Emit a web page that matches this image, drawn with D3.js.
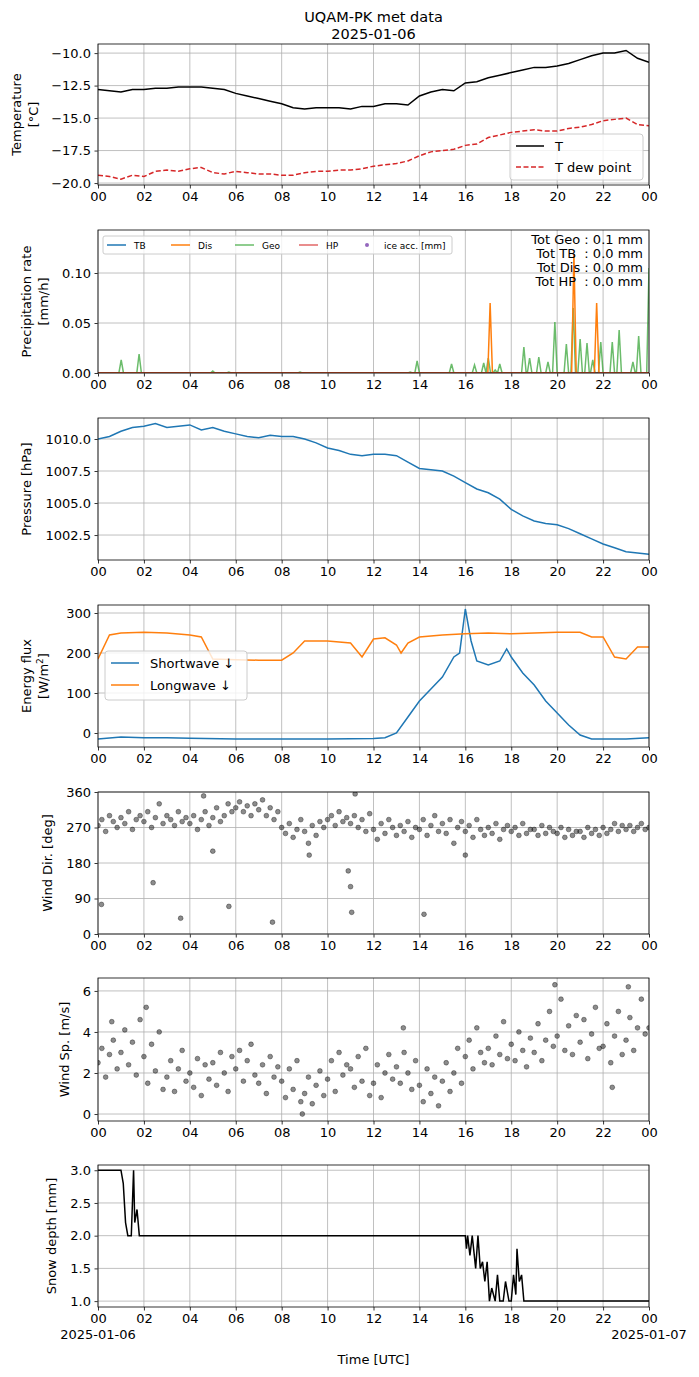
<!DOCTYPE html>
<html><head><meta charset="utf-8">
<script src="https://cdn.jsdelivr.net/npm/d3@7"></script>
<style>body{margin:0;background:#fff}text{font-family:"DejaVu Sans",sans-serif}</style>
</head><body><div id="chart"></div>
<script>
// half-hourly times 0..24
const halfHours = d3.range(0, 24.01, 0.5);
const tempT = [-12.8,-12.9,-13.0,-12.8,-12.8,-12.7,-12.7,-12.6,-12.6,-12.6,-12.7,-12.8,-13.1,-13.3,-13.5,-13.7,-13.9,-14.2,-14.3,-14.2,-14.2,-14.2,-14.3,-14.1,-14.1,-13.9,-13.9,-14.0,-13.3,-13.0,-12.8,-12.9,-12.3,-12.2,-11.9,-11.7,-11.5,-11.3,-11.1,-11.1,-11.0,-10.8,-10.5,-10.2,-10.0,-10.0,-9.8,-10.4,-10.7];
const tempTd = [-19.4,-19.5,-19.7,-19.4,-19.5,-19.1,-19.0,-19.1,-18.9,-18.8,-19.2,-19.3,-19.1,-19.2,-19.3,-19.3,-19.4,-19.4,-19.2,-19.1,-19.1,-19.0,-19.0,-18.9,-18.7,-18.6,-18.5,-18.3,-17.9,-17.6,-17.5,-17.4,-17.1,-17.0,-16.5,-16.3,-16.1,-16.0,-15.9,-16.0,-16.0,-15.8,-15.7,-15.5,-15.2,-15.1,-15.0,-15.5,-15.6];
const pressure = [1010.0,1010.2,1010.6,1010.9,1011.0,1011.2,1010.9,1011.0,1011.1,1010.7,1010.9,1010.6,1010.4,1010.2,1010.1,1010.3,1010.2,1010.2,1010.0,1009.7,1009.3,1009.1,1008.8,1008.7,1008.8,1008.8,1008.7,1008.2,1007.7,1007.6,1007.5,1007.1,1006.6,1006.1,1005.8,1005.3,1004.5,1004.0,1003.6,1003.4,1003.3,1003.0,1002.6,1002.2,1001.8,1001.5,1001.2,1001.1,1001.0];

const geoTimes = [1.01,1.79,5.0,5.7,8.8,13.6,13.9,15.4,16.4,16.8,17.0,17.3,17.5,18.55,18.8,19.2,19.6,19.9,20.4,20.7,21.0,21.3,21.55,21.9,22.4,22.7,23.3,23.55,24.0];
const geoVals  = [0.013,0.019,0.002,0.001,0.001,0.001,0.012,0.009,0.008,0.010,0.015,0.003,0.009,0.026,0.015,0.016,0.011,0.051,0.029,0.065,0.034,0.030,0.013,0.031,0.031,0.043,0.011,0.037,0.105];
const disTimes = [17.08,20.73,21.72];
const disVals  = [0.070,0.119,0.070];

const swTimes = [0,1,2,3,4,6,8,10,12,12.5,13,13.5,14,14.5,15,15.5,15.75,16,16.25,16.5,17,17.5,17.8,18,18.5,19,19.5,20,20.5,21,21.5,22,23,24];
const swVals  = [-15,-10,-12,-12,-13,-15,-15,-15,-14,-12,0,40,80,110,140,190,200,310,230,180,170,180,210,190,150,120,80,50,20,-5,-15,-15,-15,-12];
const lwTimes = [0,0.5,1,2,3,4,4.5,5,6,7,8,8.5,9,10,11,11.5,12,12.5,13,13.2,13.5,14,15,16,17,18,19,20,21,21.5,22,22.5,23,23.5,24];
const lwVals  = [185,245,250,252,250,245,240,185,183,182,182,200,230,230,225,190,235,238,220,200,225,240,245,248,250,248,250,252,252,240,240,190,185,215,215];

// wind at 10 min steps
const windDir = [275,290,260,300,285,270, 295,280,310,265,290,300, 285,310,270,295,330,280, 300,290,275,310,285,295,
 280,300,265,290,310,275, 295,320,285,300,330,310, 320,335,310,325,300,330, 315,340,300,320,290,310,
 270,255,280,245,265,290, 260,230,275,250,285,270, 290,300,275,310,285,295, 280,300,270,290,260,305,
 265,240,280,255,290,270, 250,275,260,285,245,270, 265,290,250,275,300,260, 280,255,290,230,270,285,
 260,275,245,290,265,250, 270,255,280,240,265,275, 260,270,250,280,255,265, 265,250,275,255,270,260,
 255,270,245,265,250,260, 260,245,270,255,265,250, 270,255,265,280,260,275, 265,275,260,270,280,265,270];
const dirOutTimes = [0.15,2.4,3.6,5.7,7.6,11.0,11.05,14.2,9.2,10.9,16.0,5.0,4.6,11.2];
const dirOutVals  = [75,130,40,70,30,120,55,50,200,160,200,210,350,355];
const windSp = [2.5,3.2,1.8,2.9,3.6,2.2, 3.0,4.1,2.4,3.5,1.9,4.6, 2.8,1.5,3.4,2.1,4.0,1.2, 1.8,2.6,1.1,2.2,3.1,1.6,
 2.0,1.3,2.7,0.9,2.4,1.7, 2.5,1.4,3.0,2.0,1.1,2.8, 2.2,3.1,1.6,2.6,3.4,1.9, 1.5,2.4,1.0,2.8,1.8,2.3,
 1.6,0.8,2.2,1.2,2.6,0.6, 1.0,1.8,0.5,1.4,2.1,0.9, 1.7,2.6,1.1,3.0,1.9,2.4, 2.2,1.3,2.8,1.6,3.2,0.9,
 1.5,2.4,0.8,2.0,2.9,1.7, 2.3,1.5,3.0,2.0,1.2,2.6, 1.4,0.6,2.2,1.0,1.8,0.4, 1.6,2.5,1.1,2.0,3.2,1.5,
 2.8,3.6,2.2,4.2,3.0,2.5, 3.2,2.4,3.8,2.9,4.5,2.7, 3.4,2.6,4.0,3.1,2.3,3.7, 3.0,4.4,2.6,3.6,5.0,3.3,
 3.8,5.6,3.1,4.3,2.9,4.8, 3.5,4.6,2.7,3.9,5.2,3.2, 3.3,4.4,2.5,3.8,5.0,2.9, 3.6,4.7,3.1,4.2,5.6,3.9,4.2];
const spOutTimes = [19.9,23.1,2.1,22.4,13.3,8.9,0.6];
const spOutVals  = [6.3,6.2,5.2,1.3,4.2,0.0,4.5];

const snowTimes = [0,1.0,1.1,1.2,1.3,1.45,1.55,1.6,1.7,1.8,16.0,16.05,16.1,16.2,16.3,16.45,16.55,16.65,16.75,16.85,16.95,17.05,17.15,17.3,17.4,17.5,17.65,17.75,17.9,18.0,18.1,18.2,18.25,18.35,18.45,18.55,24];
const snowVals  = [3.0,3.0,2.8,2.2,2.0,2.0,3.0,2.2,2.4,2.0,2.0,1.8,2.0,1.7,2.0,1.5,2.0,1.5,1.6,1.3,1.6,1.0,1.2,1.0,1.4,1.0,1.0,1.3,1.0,1.0,1.4,1.1,1.8,1.3,1.4,1.0,1.0];

const hourTicks = d3.range(0, 25, 2);

const W = 699, H = 1377, L = 98, R = 649;
const svg = d3.select('#chart').append('svg').attr('width', W).attr('height', H);
const x = d3.scaleLinear().domain([0, 24]).range([L, R]);

svg.append('text').attr('x', (L + R) / 2).attr('y', 22).attr('text-anchor', 'middle').attr('font-size', 14.5).text('UQAM-PK met data');
svg.append('text').attr('x', (L + R) / 2).attr('y', 39).attr('text-anchor', 'middle').attr('font-size', 14.5).text('2025-01-06');

function panel(top, bottom, domain, ticks, fmt, labels, labX) {
  const y = d3.scaleLinear().domain(domain).range([bottom, top]);
  const g = svg.append('g');
  g.append('g').attr('transform', `translate(0,${bottom})`)
    .call(d3.axisBottom(x).tickValues(hourTicks).tickFormat(d => d3.format('02d')(d % 24)).tickSize(3.5).tickPadding(3.5))
    .call(a => a.select('.domain').remove());
  g.append('g').attr('transform', `translate(${L},0)`)
    .call(d3.axisLeft(y).tickValues(ticks).tickFormat(d => fmt(d).replace('-', '\u2212')).tickSize(3.5).tickPadding(3.5))
    .call(a => a.select('.domain').remove());
  g.selectAll('.tick text').attr('font-size', 13).attr('fill', '#000').attr('font-family', 'DejaVu Sans');
  g.selectAll('.tick line').attr('stroke', '#000').attr('stroke-width', 0.8);
  const grid = g.append('g').attr('stroke', '#b0b0b0').attr('stroke-width', 0.8);
  hourTicks.forEach(h => grid.append('line').attr('x1', x(h)).attr('x2', x(h)).attr('y1', top).attr('y2', bottom));
  ticks.forEach(t => grid.append('line').attr('x1', L).attr('x2', R).attr('y1', y(t)).attr('y2', y(t)));
  const cid = 'c' + top;
  svg.append('clipPath').attr('id', cid).append('rect').attr('x', L).attr('y', top).attr('width', R - L).attr('height', bottom - top);
  const plot = svg.append('g').attr('clip-path', `url(#${cid})`);
  const mid = (top + bottom) / 2;
  labels.forEach((t, i) => {
    const tx = svg.append('text').attr('transform', `translate(${labX[i]},${mid}) rotate(-90)`).attr('text-anchor', 'middle').attr('font-size', 13);
    if (typeof t === 'string') tx.text(t); else t(tx);
  });
  const frame = () => svg.append('rect').attr('x', L).attr('y', top).attr('width', R - L).attr('height', bottom - top).attr('fill', 'none').attr('stroke', '#000').attr('stroke-width', 0.8);
  return { y, plot, frame };
}

function line(p, xs, ys, color, opts = {}) {
  const gen = d3.line().x((d, i) => x(xs[i])).y(d => p.y(d));
  p.plot.append('path').datum(ys).attr('d', gen).attr('fill', 'none').attr('stroke', color)
    .attr('stroke-width', opts.w || 1.5).attr('stroke-dasharray', opts.dash || null).attr('opacity', opts.op || 1);
}
function spikes(ts, vs) {
  const xs = [0], ys = [0];
  ts.forEach((t, i) => { xs.push(t - 0.1, t, Math.min(t + 0.1, 24.5)); ys.push(0, vs[i], 0); });
  xs.push(24.5); ys.push(0);
  return [xs, ys];
}

// 1 temperature
const p1 = panel(44, 185, [-20.15, -9.3], [-20, -17.5, -15, -12.5, -10], d3.format('.1f'), ['Temperature', '[°C]'], [21, 38]);
line(p1, halfHours, tempT, '#000');
line(p1, halfHours, tempTd, '#d62728', { dash: '5,2.5' });
p1.frame();
const lg1 = svg.append('g').attr('transform', 'translate(510,134)');
lg1.append('rect').attr('width', 133).attr('height', 46).attr('rx', 3).attr('fill', '#fff').attr('fill-opacity', 0.8).attr('stroke', '#ccc');
lg1.append('line').attr('x1', 6).attr('x2', 34).attr('y1', 12).attr('y2', 12).attr('stroke', '#000').attr('stroke-width', 1.5);
lg1.append('line').attr('x1', 6).attr('x2', 34).attr('y1', 33).attr('y2', 33).attr('stroke', '#d62728').attr('stroke-width', 1.5).attr('stroke-dasharray', '5,2.5');
lg1.append('text').attr('x', 45).attr('y', 17).attr('font-size', 13).text('T');
lg1.append('text').attr('x', 45).attr('y', 38).attr('font-size', 13).text('T dew point');

// 2 precipitation
const p2 = panel(230, 373, [0, 0.143], [0, 0.05, 0.10], d3.format('.2f'), ['Precipitation rate', '[mm/h]'], [31, 48]);
line(p2, [0, 24.5], [0, 0], '#1f77b4');
const [gx, gy] = spikes(geoTimes, geoVals);
line(p2, gx, gy, '#2ca02c', { op: 0.7 });
const [dx, dy] = spikes(disTimes, disVals);
line(p2, dx, dy, '#ff7f0e');
line(p2, [0, 24.5], [0, 0], '#d62728', { op: 0.7 });
p2.frame();
const lg2 = svg.append('g').attr('transform', 'translate(103,236)');
lg2.append('rect').attr('width', 349).attr('height', 18).attr('rx', 2).attr('fill', '#fff').attr('fill-opacity', 0.8).attr('stroke', '#ccc');
const lgItems = [['TB', '#1f77b4', 1], ['Dis', '#ff7f0e', 1], ['Geo', '#2ca02c', 0.7], ['HP', '#d62728', 0.7]];
lgItems.forEach((d, i) => {
  const ox = 4 + i * 64;
  lg2.append('line').attr('x1', ox).attr('x2', ox + 19).attr('y1', 9).attr('y2', 9).attr('stroke', d[1]).attr('stroke-width', 1.5).attr('opacity', d[2]);
  lg2.append('text').attr('x', ox + 27).attr('y', 12.5).attr('font-size', 9).text(d[0]);
});
lg2.append('circle').attr('cx', 264).attr('cy', 9).attr('r', 2).attr('fill', '#9467bd');
lg2.append('text').attr('x', 281).attr('y', 12.5).attr('font-size', 9).text('ice acc. [mm]');
['Tot Geo : 0.1 mm', 'Tot TB  : 0.0 mm', 'Tot Dis : 0.0 mm', 'Tot HP  : 0.0 mm'].forEach((t, i) => {
  svg.append('text').attr('x', 643).attr('y', 244 + i * 14).attr('text-anchor', 'end').attr('font-size', 13).attr('xml:space', 'preserve').text(t);
});

// 3 pressure
const p3 = panel(418, 560, [1000.55, 1011.64], [1002.5, 1005, 1007.5, 1010], d3.format('.1f'), ['Pressure [hPa]'], [31]);
line(p3, halfHours, pressure, '#1f77b4');
p3.frame();

// 4 energy flux
const p4 = panel(605, 747, [-35, 320], [0, 100, 200, 300], d3.format('d'), ['Energy flux', t => { t.append('tspan').text('[W/m'); t.append('tspan').attr('font-size', 9).attr('dy', -5).text('2'); t.append('tspan').attr('dy', 5).text(']'); }], [31, 48]);
line(p4, swTimes, swVals, '#1f77b4');
line(p4, lwTimes, lwVals, '#ff7f0e');
p4.frame();
const lg4 = svg.append('g').attr('transform', 'translate(105,651)');
lg4.append('rect').attr('width', 142).attr('height', 49).attr('rx', 3).attr('fill', '#fff').attr('fill-opacity', 0.8).attr('stroke', '#ccc');
lg4.append('line').attr('x1', 6).attr('x2', 34).attr('y1', 12).attr('y2', 12).attr('stroke', '#1f77b4').attr('stroke-width', 1.5);
lg4.append('line').attr('x1', 6).attr('x2', 34).attr('y1', 34).attr('y2', 34).attr('stroke', '#ff7f0e').attr('stroke-width', 1.5);
lg4.append('text').attr('x', 45).attr('y', 17).attr('font-size', 13).text('Shortwave \u2193');
lg4.append('text').attr('x', 45).attr('y', 39).attr('font-size', 13).text('Longwave \u2193');

// 5 wind direction
const p5 = panel(792, 934, [0, 360], [0, 90, 180, 270, 360], d3.format('d'), ['Wind Dir. [deg]'], [52]);
const tenMin = windDir.map((d, i) => i / 6);
const dots = (p, xs, ys) => p.plot.append('g').selectAll('circle').data(ys).join('circle')
  .attr('cx', (d, i) => x(xs[i])).attr('cy', d => p.y(d)).attr('r', 2.4)
  .attr('fill', 'rgba(0,0,0,0.45)').attr('stroke', 'rgba(0,0,0,0.6)').attr('stroke-width', 0.6);
dots(p5, tenMin, windDir);
dots(p5, dirOutTimes, dirOutVals);
p5.frame();

// 6 wind speed
const p6 = panel(978, 1121, [-0.34, 6.63], [0, 2, 4, 6], d3.format('d'), ['Wind Sp. [m/s]'], [69]);
dots(p6, tenMin, windSp);
dots(p6, spOutTimes, spOutVals);
p6.frame();

// 7 snow depth
const p7 = panel(1165, 1307, [0.91, 3.08], [1.0, 1.5, 2.0, 2.5, 3.0], d3.format('.1f'), ['Snow depth [mm]'], [56]);
line(p7, snowTimes, snowVals, '#000');
p7.frame();
svg.append('text').attr('x', x(0)).attr('y', 1339).attr('text-anchor', 'middle').attr('font-size', 13).text('2025-01-06');
svg.append('text').attr('x', x(24)).attr('y', 1339).attr('text-anchor', 'middle').attr('font-size', 13).text('2025-01-07');
svg.append('text').attr('x', (L + R) / 2).attr('y', 1364).attr('text-anchor', 'middle').attr('font-size', 13).text('Time [UTC]');
</script></body></html>
